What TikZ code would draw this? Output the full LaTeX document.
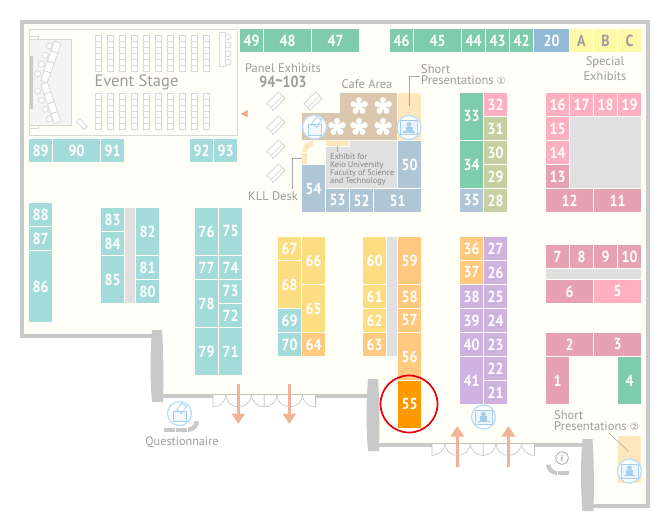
\documentclass[tikz,border=0pt]{standalone}
\usepackage{fontspec}
\setmainfont{PT Sans}
\newfontfamily\symfont{DejaVu Sans}
\newfontfamily\numfont[FakeStretch=0.88]{PT Sans}
\usetikzlibrary{arrows.meta}
\definecolor{cTeal}{HTML}{A3DBDB}
\definecolor{cGreen}{HTML}{7FCCAA}
\definecolor{cSteel}{HTML}{AEC6D6}
\definecolor{cPink}{HTML}{FFAFBF}
\definecolor{cRose}{HTML}{E6A1B2}
\definecolor{cOlive}{HTML}{C5CFA1}
\definecolor{cPurple}{HTML}{CEB3E0}
\definecolor{cYellow}{HTML}{FDDD82}
\definecolor{cOrange}{HTML}{FFC97F}
\definecolor{cHot}{HTML}{FF9900}
\definecolor{cBlue}{HTML}{93B9D9}
\definecolor{cLemon}{HTML}{FFF9A8}
\definecolor{cGrayBox}{HTML}{E0E0E0}
\definecolor{cFloor}{HTML}{FFFEF7}
\definecolor{cWall}{HTML}{C9C9C9}
\definecolor{cThin}{HTML}{D8D8D8}
\definecolor{cTxt}{HTML}{9C9C9C}
\definecolor{cCafe}{HTML}{DBC7AE}
\definecolor{cPale}{HTML}{FFE6BC}
\definecolor{cArrow}{HTML}{F0B398}
\definecolor{cTri}{HTML}{F0A888}
\definecolor{cIcon}{HTML}{BBDDF8}
\definecolor{cIconIn}{HTML}{A6CEEE}
\definecolor{cMark}{HTML}{E60012}
\tikzset{
  x=1pt,y=-1pt,
  numtext/.style={text=white,font=\numfont\fontsize{16}{16}\selectfont\bfseries,inner sep=0pt},
  letter/.style={text=cTxt,font=\numfont\fontsize{16}{16}\selectfont\bfseries,inner sep=0pt},
  wall/.style={draw=cWall,line width=4pt,line cap=butt},
  thin/.style={draw=cThin,line width=0.8pt},
  chair/.style={draw=cThin,line width=0.8pt,fill=white},
  leader/.style={draw=cTxt!90,line width=0.5pt},
  lab/.style={text=cTxt,font=\fontsize{12.5}{14}\selectfont,inner sep=0pt},
  flow/.style={draw=cArrow,line width=3pt,-{Triangle[width=13pt,length=10.5pt]}},
  door/.style={draw=cThin!90!black,line width=0.6pt},
  iconring/.style={circle,draw=cIcon,line width=1.3pt,fill=white,minimum size=24pt,inner sep=0pt},
}
\newcommand\booth[6]{\fill[#6] (#2,#3) rectangle (#4,#5) node[pos=.5,numtext] (b#1) {#1};}
\newcommand\lemon[5]{\fill[cLemon] (#2,#3) rectangle (#4,#5) node[pos=.5,letter] (b#1) {#1};}
\newcommand\flower[2]{\fill[white] (#1,#2) circle (4);
  \foreach \a in {-90,-18,54,126,198} {\fill[white] ([shift={(\a:6)}]#1,#2) circle (3);}}
\newcommand\panelex[2]{\begin{scope}[shift={(#1,#2)},rotate=45]
  \draw[thin,fill=white] (-8.3,-4.6) rectangle (8.3,4.6); \draw[thin] (-8.3,1) -- (8.3,1);\end{scope}}
\newcommand\monitoricon[3]{\node[iconring] (#1) at (#2,#3) {};
  \begin{scope}[shift={(#2,#3)}]
  \draw[draw=cIconIn,line width=0.7pt,fill=cIcon!30] (-8.5,-7) rectangle (8.5,7);
  \fill[cIconIn] (0,-3) circle (2.4);
  \fill[cIconIn] (-3.5,-0.6) rectangle (3.5,3.6);
  \fill[cIconIn] (-6,3.6) rectangle (6,5.2);
  \end{scope}}
\newcommand\voteicon[3]{\node[iconring] (#1) at (#2,#3) {};
  \begin{scope}[shift={(#2,#3)}]
  \draw[draw=cIconIn,line width=0.8pt,fill=cIcon!20] (-6.5,-2.5) rectangle (6.5,8);
  \draw[draw=cIconIn,line width=0.8pt,fill=white,rotate around={-35:(2,-5)}] (-1,-9.5) rectangle (5,-1);
  \draw[draw=cIconIn,line width=0.8pt] (-6.5,-2.5) -- (6.5,-2.5);
  \end{scope}}
\newcommand\doorset[3]{
  \draw[door] (#1,#3) -- (#2,#3);
  \pgfmathsetmacro\dstep{(#2-#1)/8}
  \foreach \k in {0,2,4,6} {
    \pgfmathsetmacro\xa{#1+\k*\dstep}
    \pgfmathsetmacro\xb{\xa+\dstep}
    \pgfmathsetmacro\xc{\xa+2*\dstep}
    \draw[door] (\xa,#3) -- (\xa,#3+12.5) arc[start angle=-90,end angle=0,x radius=\dstep,y radius=-12.5];
    \draw[door] (\xc,#3) -- (\xc,#3+12.5) arc[start angle=-90,end angle=-180,x radius=\dstep,y radius=-12.5];
  }
  \draw[door] (#2,#3) -- (#2,#3+12.5);
}
\newcommand\pillar[3]{\fill[cWall] (#1-5,#2) .. controls (#1-7,#2+25) and (#1-7,#3-25) .. (#1-5,#3)
  -- (#1+6,#3) .. controls (#1+6.6,#3-25) and (#1+6.6,#2+25) .. (#1+5,#2) -- cycle;}
\begin{document}
\begin{tikzpicture}
\useasboundingbox (0,0) rectangle (670,520);
\fill[white] (0,0) rectangle (670,520);
% floor
\fill[cFloor] (24,24) -- (646,24) -- (646,504) -- (590,504) -- (590,445) -- (375,445) -- (375,396) -- (160,396) -- (160,336) -- (24,336) -- cycle;
% walls
\draw[wall] (20,22) -- (650,22);
\draw[wall] (22,22) -- (22,338);
\draw[wall] (648,22) -- (648,508);
\draw[wall] (20,336) -- (153,336);
\draw[wall] (590,506) -- (650,506);
\draw[wall] (160,396) -- (213,396);
\draw[wall] (315,396) -- (370,396);
\draw[wall] (378,444.5) -- (432,444.5);
\draw[wall] (534,444.5) -- (585,444.5);
\pillar{157}{330}{402}
\pillar{373}{379}{451}
\pillar{587.5}{439}{511}
\doorset{213}{315.3}{394.5}
\doorset{432}{534.3}{443}
% Event stage room
\draw[thin] (29,29) rectangle (237,135.3);
\draw[thin] (29,36.3) -- (38.7,36.3) -- (38.7,39.3);
\draw[thin] (29,128) -- (38.7,128) -- (38.7,125);
\draw[thin,fill=cGrayBox!35] (29.4,39.3) rectangle (71.7,125.3);
\fill[cWall] (30,56) rectangle (33,109);
\foreach \x/\y in {49.3/46,45.3/55.3,41.3/64.3,37.7/73.7, 37.7/91,41.3/100.3,45.3/109.3,49.3/118.7} {\draw[chair] (\x,\y) circle (3);}
\foreach \x/\y in {56/47.3,52.6/57,49.1/67,45.7/76.7} {\draw[chair,shift={(\x,\y)},rotate=70.7] (-5.2,-3.6) rectangle (5.2,3.6);}
\foreach \x/\y in {45.7/88.3,49.1/98,52.6/108,56/117.7} {\draw[chair,shift={(\x,\y)},rotate=-70.7] (-5.2,-3.6) rectangle (5.2,3.6);}
\draw[chair,shift={(81.7,124)},rotate=-45] (-5.5,-2.3) rectangle (5.5,2.3);
\foreach \c in {0,...,9} {\foreach \r in {0,...,5} {
  \draw[thin,fill=white] (95.3+12*\c,35.5+6*\r) rectangle ++(5.7,6);
  \draw[thin,fill=white] (95.3+12*\c,93.5+6*\r) rectangle ++(5.7,6);
}}
\draw[thin,fill=white] (219.3,32.3) rectangle (225,66.7);
\foreach \y in {36.7,45,53.7,62} {\draw[chair] (228,\y) circle (3);}
\node[text=cTxt,font=\fontsize{16.5}{18}\selectfont,inner sep=0pt] (stage) at (136.5,82) {Event Stage};
% teal
\booth{89}{29}{139.3}{52}{161.7}{cTeal}
\booth{90}{53}{139.3}{100}{161.7}{cTeal}
\booth{91}{101}{139.3}{124}{161.7}{cTeal}
\booth{92}{190}{139.3}{213}{161.7}{cTeal}
\booth{93}{214}{139.3}{237}{161.7}{cTeal}
% top row
\booth{49}{240}{29}{263}{52}{cGreen}
\booth{48}{264}{29}{311}{52}{cGreen}
\booth{47}{312}{29}{359}{52}{cGreen}
\booth{46}{390}{29}{413}{52}{cGreen}
\booth{45}{414}{29}{461}{52}{cGreen}
\booth{44}{462}{29}{485}{52}{cGreen}
\booth{43}{486}{29}{509}{52}{cGreen}
\booth{42}{510}{29}{533}{52}{cGreen}
\booth{20}{534}{29}{569}{52}{cBlue}
\lemon{A}{570}{29}{593}{52}
\lemon{B}{594}{29}{617}{52}
\lemon{C}{618}{29}{641}{52}
% panel exhibits
\panelex{276}{101}\panelex{313}{101}\panelex{276}{125}\panelex{276}{149}\panelex{276}{173}
\fill[cTri] (241,113.7) -- (247.5,110) -- (247.5,117.4) -- cycle;
% cafe
\fill[cCafe] (340,93) -- (397,93) -- (397,140) -- (302,140) -- (302,113) -- (340,113) -- cycle;
\fill[cPale] (398,93) rectangle (421,140);
\flower{359}{106}\flower{383}{106}\flower{337}{127}\flower{359}{127}\flower{383}{127}
\voteicon{voteA}{314.5}{127}
\monitoricon{monA}{409}{127.5}
% kll desk
\fill[cPale] (302,152) .. controls (302,146) and (307,141) .. (313,141) -- (313,146) .. controls (310,146) and (307,149) .. (307,152) -- cycle;
\fill[cPale] (302,153) rectangle (307,164);
\fill[cPale] (326,141) rectangle (349,146);
\fill[cGrayBox] (326,147) -- (350,147) -- (350,141) -- (397,141) -- (397,188) -- (326,188) -- cycle;
\booth{50}{398}{141}{421}{188}{cSteel}
\booth{54}{302}{165}{325}{212}{cSteel}
\booth{53}{326}{189}{349}{212}{cSteel}
\booth{52}{350}{189}{373}{212}{cSteel}
\booth{51}{374}{189}{421}{212}{cSteel}
\node[text=cTxt!85!black,anchor=north west,align=left,font=\fontsize{8.3}{8}\selectfont,inner sep=0pt] (exhibit) at (330,153) {Exhibit for\\Keio University\\Faculty of Science\\and Technology};
\coordinate (exbar) at (337,146);
\coordinate (exlab) at (337,152);
\draw[leader] (exbar) -- (exlab);
% labels top
\node[lab] (panel) at (283,68) {Panel Exhibits};
\node[text=cTxt,font=\numfont\fontsize{16}{16}\selectfont\bfseries,inner sep=0pt] (panelnum) at (283,82) {94\raisebox{1.5pt}{\char`\~}103};
\node[lab] (cafe) at (367,84) {Cafe Area};
\node[lab,anchor=west] (shortA) at (421,69) {Short};
\node[lab,anchor=west] (shortAb) at (421,80.5) {Presentations {\symfont\fontsize{10}{10}\selectfont ①}};
\coordinate (pale1) at (409,106);
\coordinate (lab1) at (420,76);
\draw[leader] (pale1) |- (lab1);
\node[lab] (kll) at (273,196) {KLL Desk};
\coordinate (kll1) at (292,189);
\coordinate (kll2) at (302,158);
\draw[leader] (kll1) |- (kll2);
\node[lab] (special) at (605,62) {Special};
\node[lab] (specialb) at (605,76) {Exhibits};
% right-top block
\booth{33}{460}{93}{483}{140}{cGreen}
\booth{32}{484}{93}{507}{116}{cPink}
\booth{31}{484}{117}{507}{140}{cOlive}
\booth{34}{460}{141}{483}{188}{cGreen}
\booth{30}{484}{141}{507}{164}{cOlive}
\booth{29}{484}{165}{507}{188}{cOlive}
\booth{35}{460}{189}{483}{212}{cSteel}
\booth{28}{484}{189}{507}{212}{cOlive}
\booth{16}{546}{93}{569}{116}{cPink}
\booth{17}{570}{93}{593}{116}{cPink}
\booth{18}{594}{93}{617}{116}{cPink}
\booth{19}{618}{93}{641}{116}{cPink}
\booth{15}{546}{117}{569}{140}{cPink}
\booth{14}{546}{141}{569}{164}{cPink}
\booth{13}{546}{165}{569}{188}{cRose}
\fill[cGrayBox] (570,117) rectangle (641,188);
\booth{12}{546}{189}{593}{212}{cRose}
\booth{11}{594}{189}{641}{212}{cRose}
% left columns
\booth{88}{29}{203}{52}{226}{cTeal}
\booth{87}{29}{227}{52}{250}{cTeal}
\booth{86}{29}{251}{52}{322}{cTeal}
\booth{83}{101}{208}{124}{231}{cTeal}
\booth{84}{101}{232}{124}{255}{cTeal}
\booth{85}{101}{256}{124}{303}{cTeal}
\fill[cGrayBox] (125,208) rectangle (135,303);
\booth{82}{136}{208}{159}{255}{cTeal}
\booth{81}{136}{256}{159}{279}{cTeal}
\booth{80}{136}{280}{159}{303}{cTeal}
\booth{76}{195}{208}{218}{255}{cTeal}
\booth{75}{219}{208}{242}{255}{cTeal}
\booth{77}{195}{256}{218}{279}{cTeal}
\booth{74}{219}{256}{242}{279}{cTeal}
\booth{78}{195}{280}{218}{327}{cTeal}
\booth{73}{219}{280}{242}{303}{cTeal}
\booth{72}{219}{304}{242}{327}{cTeal}
\booth{79}{195}{328}{218}{375}{cTeal}
\booth{71}{219}{328}{242}{375}{cTeal}
% middle
\booth{67}{278}{237}{301}{260}{cYellow}
\booth{68}{278}{261}{301}{308}{cYellow}
\booth{69}{278}{309}{301}{332}{cTeal}
\booth{70}{278}{333}{301}{356}{cTeal}
\booth{66}{302}{237}{325}{284}{cYellow}
\booth{65}{302}{285}{325}{332}{cYellow}
\booth{64}{302}{333}{325}{356}{cOrange}
\booth{60}{363}{237}{386}{284}{cYellow}
\booth{61}{363}{285}{386}{308}{cYellow}
\booth{62}{363}{309}{386}{332}{cYellow}
\booth{63}{363}{333}{386}{356}{cOrange}
\fill[cGrayBox] (387,237) rectangle (397,356);
\booth{59}{398}{237}{421}{284}{cOrange}
\booth{58}{398}{285}{421}{308}{cOrange}
\booth{57}{398}{309}{421}{332}{cOrange}
\booth{56}{398}{333}{421}{380}{cOrange}
\booth{55}{398}{381}{421}{428}{cHot}
\node[circle,draw=cMark,line width=1.7pt,minimum size=57pt,inner sep=0pt] (mark) at (409,404) {};
\booth{36}{460}{237}{483}{260}{cOrange}
\booth{37}{460}{261}{483}{284}{cOrange}
\booth{38}{460}{285}{483}{308}{cPurple}
\booth{39}{460}{309}{483}{332}{cPurple}
\booth{40}{460}{333}{483}{356}{cPurple}
\booth{41}{460}{357}{483}{404}{cPurple}
\booth{27}{484}{237}{507}{260}{cPurple}
\booth{26}{484}{261}{507}{284}{cPurple}
\booth{25}{484}{285}{507}{308}{cPurple}
\booth{24}{484}{309}{507}{332}{cPurple}
\booth{23}{484}{333}{507}{356}{cPurple}
\booth{22}{484}{357}{507}{380}{cPurple}
\booth{21}{484}{381}{507}{404}{cPurple}
\monitoricon{monB}{483.5}{417}
% right lower
\booth{7}{546}{245}{569}{268}{cRose}
\booth{8}{570}{245}{593}{268}{cRose}
\booth{9}{594}{245}{617}{268}{cRose}
\booth{10}{618}{245}{641}{268}{cRose}
\fill[cGrayBox] (546,269) rectangle (641,279);
\booth{6}{546}{280}{593}{303}{cRose}
\booth{5}{594}{280}{641}{303}{cPink}
\booth{2}{546}{333}{593}{356}{cRose}
\booth{3}{594}{333}{641}{356}{cRose}
\booth{1}{546}{357}{569}{404}{cRose}
\booth{4}{618}{357}{641}{404}{cGreen}
% short 2
\fill[cPale] (618,436) rectangle (641,483);
\monitoricon{monC}{629.5}{471}
\node[lab,anchor=west] (shortB) at (554,415) {Short};
\node[lab,anchor=west] (shortBb) at (554,426.5) {Presentations {\symfont\fontsize{10}{10}\selectfont ②}};
\coordinate (l2a) at (609,433);
\coordinate (l2b) at (629,452);
\draw[leader] (l2a) -- (l2b);
% flow arrows
\coordinate (a1s) at (238.3,384); \coordinate (a1e) at (238.3,424);
\coordinate (a2s) at (289.3,384); \coordinate (a2e) at (289.3,424);
\coordinate (a3s) at (457.3,467); \coordinate (a3e) at (457.3,426);
\coordinate (a4s) at (508.3,467); \coordinate (a4e) at (508.3,426);
\draw[flow] (a1s) -- (a1e);
\draw[flow] (a2s) -- (a2e);
\draw[flow] (a3s) -- (a3e);
\draw[flow] (a4s) -- (a4e);
% questionnaire
\voteicon{voteB}{179.5}{413.5}
\fill[cWall] (164,427.5) rectangle (175,432);
\fill[cWall] (176,427.5) rectangle (187,432);
\fill[cWall] (188,427.5) -- (188,432) .. controls (194,432) and (199,427) .. (199,421) -- (194.5,421) .. controls (194.5,424.5) and (192,427.5) .. (188,427.5) -- cycle;
\node[lab,font=\fontsize{12.2}{14}\selectfont] (quest) at (182,442) {Questionnaire};
% info
\node[circle,draw=cTxt,line width=0.7pt,minimum size=12.5pt,inner sep=0pt,text=cTxt,font=\fontsize{9}{9}\selectfont\bfseries] (info) at (562,458) {i};
\fill[cWall] (546,464.5) .. controls (546,470) and (551,475) .. (557,475) -- (557,471) .. controls (553.5,471) and (550.5,468) .. (550.5,464.5) -- cycle;
\fill[cWall] (558,471) rectangle (569,475);
\end{tikzpicture}
\end{document}
